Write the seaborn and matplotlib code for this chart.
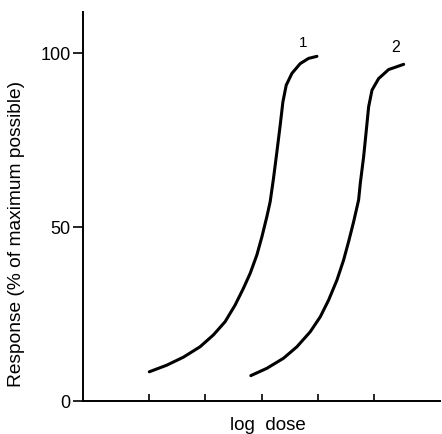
import numpy as np
import pandas as pd
import seaborn as sns
import matplotlib
matplotlib.use("Agg")
import matplotlib.pyplot as plt

# curve 1
dose_1 = [1.005, 1.315, 1.610, 1.907, 2.143, 2.351, 2.529, 2.676, 2.796, 2.915, 3.004,
          3.092, 3.151, 3.210, 3.270, 3.329, 3.377, 3.436, 3.537, 3.684, 3.832, 3.981]
resp_1 = [8.4, 10.3, 12.6, 15.6, 19.0, 22.8, 27.6, 32.4, 36.7, 42.0, 47.2,
          53.0, 57.3, 64.0, 71.6, 79.3, 86.0, 90.8, 94.2, 97.0, 98.5, 99.1]

# curve 2
dose_2 = [2.808, 3.092, 3.388, 3.626, 3.862, 4.040, 4.188, 4.337, 4.454, 4.543,
          4.632, 4.721, 4.751, 4.810, 4.858, 4.899, 4.959, 5.076, 5.254, 5.521]
resp_2 = [7.3, 9.4, 12.3, 15.6, 19.9, 24.2, 29.0, 34.8, 40.5, 45.8,
          51.5, 57.8, 62.6, 70.2, 77.9, 84.6, 89.4, 92.7, 95.3, 96.8]

x_ticks = [1, 2, 3, 4, 5]
y_ticks = [0, 50, 100]
y_ticklabels = ["0", "50", "100"]

df = pd.concat([
    pd.DataFrame({"dose": dose_1, "resp": resp_1, "curve": "1"}),
    pd.DataFrame({"dose": dose_2, "resp": resp_2, "curve": "2"}),
])

sns.set_style("ticks")
plt.rcParams["font.family"] = ["Liberation Sans", "DejaVu Sans"]
plt.rcParams["text.color"] = "black"
plt.rcParams["axes.labelcolor"] = "black"
plt.rcParams["xtick.color"] = "black"
plt.rcParams["ytick.color"] = "black"

fig = plt.figure(figsize=(4.42, 4.34), dpi=100)
ax = fig.add_axes([0.188, 0.076, 0.808, 0.896])

sns.lineplot(data=df, x="dose", y="resp", units="curve", estimator=None,
             sort=False, color="black", linewidth=2.2, ax=ax)
for line in ax.lines:
    line.set_solid_capstyle("round")
    line.set_solid_joinstyle("round")

# curve labels
ax.text(3.74, 103, "1", fontsize=11, ha="center", va="center")
ax.text(5.37, 101.5, "2", fontsize=11.5, ha="center", va="center")

ax.set_xlim(-0.17, 6.17)
ax.set_ylim(0, 111.8)

ax.set_xticks(x_ticks)
ax.set_xticklabels([])
ax.tick_params(axis="x", direction="in", length=5, width=1.2, color="black")

ax.set_yticks(y_ticks)
ax.set_yticklabels(y_ticklabels, fontsize=13)
ax.tick_params(axis="y", direction="out", length=7, width=1.2, color="black", pad=2)

sns.despine(ax=ax)
for s in ["left", "bottom"]:
    ax.spines[s].set_linewidth(1.4)
    ax.spines[s].set_color("black")

ax.set_xlabel("log  dose", fontsize=13.5)
ax.xaxis.set_label_coords(0.518, -0.042)
ax.xaxis.label.set_va("top")
ax.set_ylabel("Response (% of maximum possible)", fontsize=13.8)
ax.yaxis.set_label_coords(-0.162, 0.43)

fig.savefig("out.png", dpi=100)
